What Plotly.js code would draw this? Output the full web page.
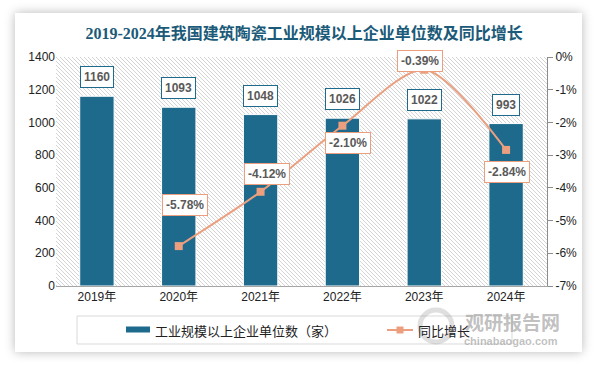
<!DOCTYPE html>
<html>
<head>
<meta charset="utf-8">
<script src="https://cdn.plot.ly/plotly-3.0.1.min.js"></script>
<style>
  html, body { margin: 0; padding: 0; background: #ffffff; }
  #card { position: absolute; left: 15px; top: 13px; width: 567px; height: 339px; background: #ffffff; box-shadow: 0 0 10px rgba(0,0,0,0.28); }
  #chart { position: absolute; left: 0; top: 0; width: 594px; height: 366px; }
</style>
</head>
<body>
<div id="card"></div>
<div id="chart"></div>
<script>
// ---- data ----
const years = ['2019年', '2020年', '2021年', '2022年', '2023年', '2024年'];
const companies = [1160, 1093, 1048, 1026, 1022, 993];
const growthYears = ['2020年', '2021年', '2022年', '2023年', '2024年'];
const growth = [-5.78, -4.12, -2.10, -0.39, -2.84];
const leftTicks = [0, 200, 400, 600, 800, 1000, 1200, 1400];
const rightTicks = [-7, -6, -5, -4, -3, -2, -1, 0];
const rightTickText = ['-7%', '-6%', '-5%', '-4%', '-3%', '-2%', '-1%', '0%'];
const seriesNames = ['工业规模以上企业单位数（家）', '同比增长'];
const titleText = '2019-2024年我国建筑陶瓷工业规模以上企业单位数及同比增长';

// ---- styles ----
const barColor = '#1d6a8c';
const lineColor = '#eb9f7f';
const labelColor = '#595959';
const growthShift = [[6, 41], [6, 18], [6, -17], [-4, 9], [1, -22]];

// hatched plot background
const svg = '<svg xmlns="http://www.w3.org/2000/svg" width="491" height="229">' +
  '<defs><pattern id="p" width="4" height="4" patternUnits="userSpaceOnUse">' +
  '<path d="M-1,-1 L5,5 M-1,3 L1,5 M3,-1 L5,1" stroke="#cfcfcf" stroke-width="0.9"/></pattern></defs>' +
  '<rect width="491" height="229" fill="#ffffff"/><rect width="491" height="229" fill="url(#p)"/></svg>';
const bgSrc = 'data:image/svg+xml;charset=utf-8,' + encodeURIComponent(svg);

const traces = [
  {
    type: 'bar', x: years, y: companies, name: seriesNames[0],
    marker: { color: barColor, line: { color: '#ffffff', width: 1 } },
    width: 0.42, yaxis: 'y', showlegend: false, hoverinfo: 'x+y'
  },
  {
    type: 'scatter', mode: 'lines+markers', x: growthYears, y: growth, name: seriesNames[1],
    line: { color: lineColor, width: 2, shape: 'spline', smoothing: 0.8 },
    marker: { symbol: 'square', size: 8, color: lineColor },
    yaxis: 'y2', showlegend: false
  }
];

const annotations = [];
years.forEach((c, i) => {
  annotations.push({
    x: c, y: companies[i], xref: 'x', yref: 'y', text: '<b>' + companies[i] + '</b>',
    showarrow: false, yanchor: 'middle', yshift: 19,
    font: { family: 'Liberation Sans, Arial, sans-serif', size: 12, color: labelColor },
    bgcolor: '#ffffff', bordercolor: barColor, borderwidth: 1, borderpad: 3
  });
});
growthYears.forEach((c, i) => {
  annotations.push({
    x: c, y: growth[i], xref: 'x', yref: 'y2', text: '<b>' + growth[i].toFixed(2) + '%</b>',
    showarrow: false, yanchor: 'middle', xshift: growthShift[i][0], yshift: growthShift[i][1],
    font: { family: 'Liberation Sans, Arial, sans-serif', size: 12, color: labelColor },
    bgcolor: '#ffffff', bordercolor: lineColor, borderwidth: 1, borderpad: 3
  });
});

// legend (manual) - paper coords: plot area x 56..547 (491px), y 57..286 (229px)
const px = v => (v - 56) / 491;
const py = v => (286 - v) / 229;
annotations.push({
  xref: 'paper', yref: 'paper', x: px(153), y: py(330), xanchor: 'left', yanchor: 'middle',
  text: seriesNames[0], showarrow: false,
  font: { family: 'Noto Sans CJK SC, sans-serif', size: 13, color: '#222222' }
});
annotations.push({
  xref: 'paper', yref: 'paper', x: px(416), y: py(330), xanchor: 'left', yanchor: 'middle',
  text: seriesNames[1], showarrow: false,
  font: { family: 'Noto Sans CJK SC, sans-serif', size: 13, color: '#222222' }
});
// watermark
annotations.push({
  xref: 'paper', yref: 'paper', x: px(512), y: py(321), xanchor: 'center', yanchor: 'middle',
  text: '<b>观研报告网</b>', showarrow: false,
  font: { family: 'Noto Sans CJK SC, sans-serif', size: 19, color: 'rgba(140,140,140,0.55)' }
});
annotations.push({
  xref: 'paper', yref: 'paper', x: px(511), y: py(341), xanchor: 'center', yanchor: 'middle',
  text: '<b>chinabaogao.com</b>', showarrow: false,
  font: { family: 'Liberation Sans, Arial, sans-serif', size: 11, color: 'rgba(140,140,140,0.55)' }
});

const shapes = [
  { type: 'rect', xref: 'paper', yref: 'paper', x0: px(77), x1: px(512), y0: py(316), y1: py(344),
    line: { color: '#d9d9d9', width: 1 }, fillcolor: 'rgba(0,0,0,0)' },
  { type: 'rect', xref: 'paper', yref: 'paper', x0: px(126), x1: px(150), y0: py(326.5), y1: py(332.5),
    line: { width: 0 }, fillcolor: barColor },
  { type: 'line', xref: 'paper', yref: 'paper', x0: px(387), x1: px(413), y0: py(330), y1: py(330),
    line: { color: lineColor, width: 2 } },
  { type: 'rect', xref: 'paper', yref: 'paper', x0: px(396.5), x1: px(403.5), y0: py(326.5), y1: py(333.5),
    line: { width: 0 }, fillcolor: lineColor },
  // watermark eye logo
  { type: 'circle', xref: 'paper', yref: 'paper', x0: px(420), x1: px(452), y0: py(310), y1: py(342),
    line: { color: 'rgba(150,150,150,0.3)', width: 5 }, fillcolor: 'rgba(0,0,0,0)' }
];

const layout = {
  width: 594, height: 366,
  margin: { l: 56, r: 47, t: 57, b: 80, pad: 0 },
  paper_bgcolor: 'rgba(0,0,0,0)',
  plot_bgcolor: 'rgba(0,0,0,0)',
  title: {
    text: '<b>' + titleText + '</b>', x: 0.512, xanchor: 'center', y: 0.91, yanchor: 'middle',
    font: { family: 'Liberation Serif, Noto Sans CJK SC, serif', size: 16, color: '#1b5a78' }
  },
  xaxis: {
    type: 'category', categoryorder: 'array', categoryarray: years,
    showline: true, linecolor: '#a6a6a6', linewidth: 1, ticks: '',
    tickfont: { family: 'Liberation Sans, Noto Sans CJK SC, sans-serif', size: 12, color: '#222222' },
    showgrid: false, zeroline: false
  },
  yaxis: {
    range: [0, 1400], tickvals: leftTicks, ticks: '', showline: false, showgrid: false, zeroline: false,
    tickfont: { family: 'Liberation Sans, Arial, sans-serif', size: 12, color: '#222222' }
  },
  yaxis2: {
    overlaying: 'y', side: 'right', range: [-7, 0], tickvals: rightTicks, ticktext: rightTickText,
    showline: true, linecolor: '#8c8c8c', linewidth: 1, ticks: 'outside', ticklen: 5, tickcolor: '#8c8c8c',
    showgrid: false, zeroline: false,
    tickfont: { family: 'Liberation Sans, Arial, sans-serif', size: 12, color: '#222222' }
  },
  images: [{
    source: bgSrc, xref: 'paper', yref: 'paper', x: 0, y: 1, sizex: 1, sizey: 1,
    xanchor: 'left', yanchor: 'top', sizing: 'stretch', layer: 'below'
  }],
  annotations: annotations,
  shapes: shapes,
  showlegend: false,
  bargap: 0.58
};

Plotly.newPlot('chart', traces, layout, { displayModeBar: false, staticPlot: true });
</script>
</body>
</html>
